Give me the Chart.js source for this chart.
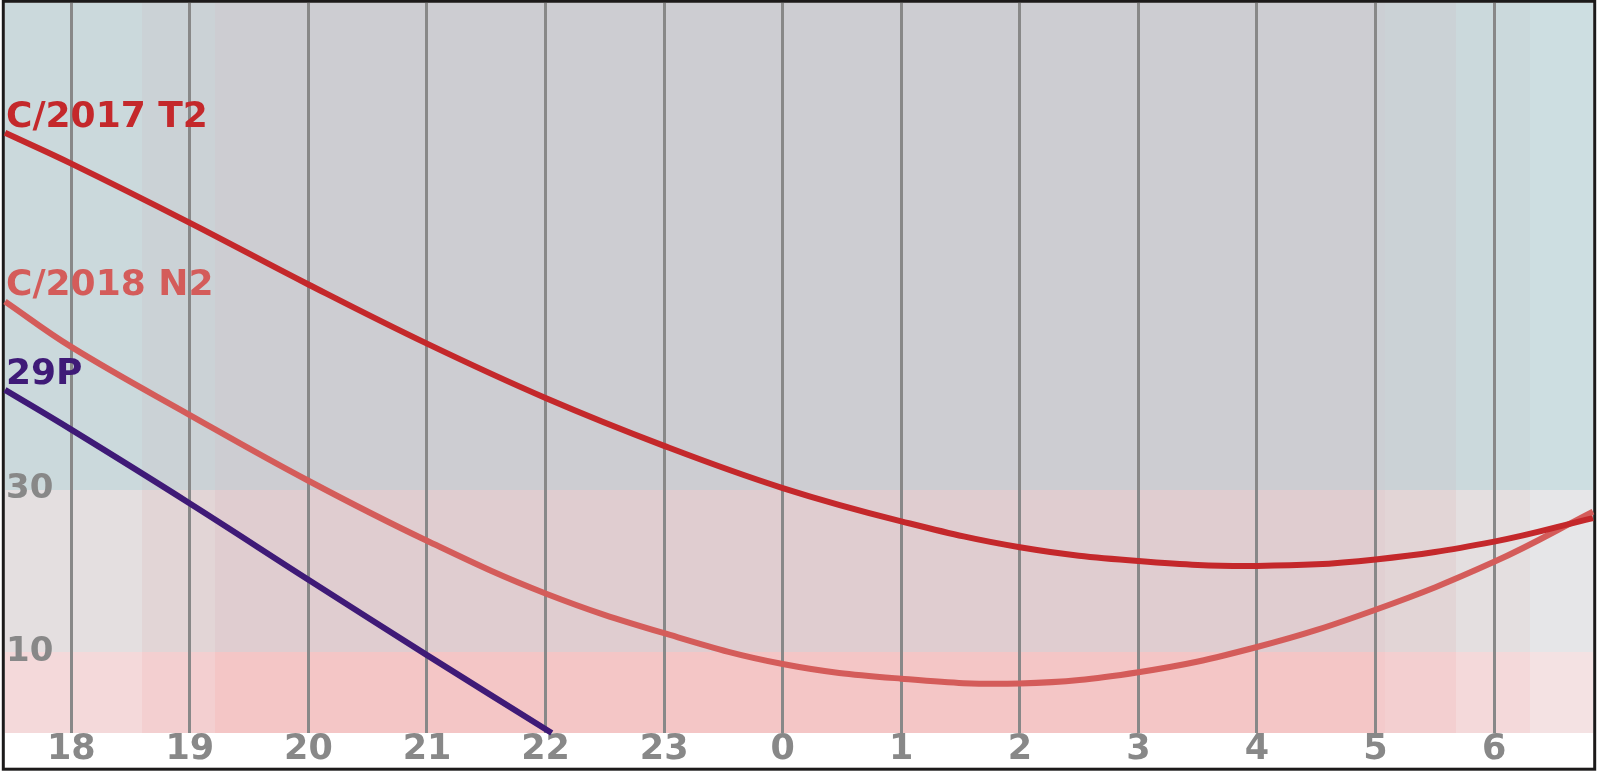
<!DOCTYPE html>
<html>
<head>
<meta charset="utf-8">
<script src="https://cdn.jsdelivr.net/npm/chart.js@4/dist/chart.umd.min.js"></script>
<style>
  html, body { margin: 0; padding: 0; background: #fff; }
  canvas { display: block; }
</style>
</head>
<body>
<canvas id="chart" width="1600" height="771"></canvas>
<script>
// hours after 18:00 local time; first/last sample = plot edges
const hourLabels = ["18", "19", "20", "21", "22", "23", "0", "1", "2", "3", "4", "5", "6"];
const sampleHours = [-0.559, 0, 1, 2, 3, 4, 5, 6, 7, 8, 9, 10, 11, 12, 12.834];

// altitude in degrees
const t2Alt = [74.0, 70.2, 62.9, 55.3, 48.0, 41.3, 35.4, 30.2, 26.1, 22.9, 21.2, 20.6, 21.4, 23.6, 26.5];
const n2Alt = [53.2, 47.6, 39.2, 31.1, 23.7, 17.2, 12.3, 8.5, 6.7, 6.1, 7.5, 10.6, 15.2, 21.1, 27.3];
const p29Hours = [-0.559, 0, 1, 2, 3, 4.052];
const p29Alt = [42.3, 37.4, 28.3, 18.9, 9.6, 0];

const yTickValues = [10, 30];

// altitude zones and twilight bands
const zoneBounds = [0, 10, 30, 90];
const bandEdges = [-0.559, 0.594, 1.212, 11.009, 11.080, 11.678, 12.302, 12.834];
const bandLevels = [3, 2, 0, 1, 2, 3, 4];
const zoneColors = [
    ["#f4c6c6", "#f3cacb", "#f3cfd0", "#f4d9da", "#f4e2e3"],   // below 10
    ["#e0cdd0", "#e1d0d2", "#e2d5d6", "#e4dfe0", "#e6e6e8"],   // 10 - 30
    ["#cdcdd2", "#cccfd4", "#cbd2d6", "#cbd9dc", "#cddee1"]    // above 30
];

function toPoints(xs, ys) {
    return xs.map((x, i) => ({ x: x, y: ys[i] }));
}

const FONT = "'DejaVu Sans', sans-serif";

// -------------------------
// BACKGROUND + FRAME
// -------------------------
const backdrop = {
    id: "backdrop",
    beforeDraw(chart) {
        const ctx = chart.ctx;
        const xs = chart.scales.x, ys = chart.scales.y;
        ctx.save();
        ctx.fillStyle = "#ffffff";
        ctx.fillRect(0, 0, chart.width, chart.height);
        for (let i = 0; i < bandLevels.length; i++) {
            const x1 = Math.round(xs.getPixelForValue(bandEdges[i]));
            const x2 = Math.round(xs.getPixelForValue(bandEdges[i + 1]));
            for (let j = 0; j < zoneColors.length; j++) {
                const y1 = Math.round(ys.getPixelForValue(zoneBounds[j + 1]));
                const y2 = Math.round(ys.getPixelForValue(zoneBounds[j]));
                ctx.fillStyle = zoneColors[j][bandLevels[i]];
                ctx.fillRect(x1, y1, x2 - x1, y2 - y1);
            }
        }
        ctx.strokeStyle = "#1c1a1a";
        ctx.lineWidth = 3;
        ctx.strokeRect(3.3, 1.3, 1591.4, 767.9);
        ctx.restore();
    }
};

// -------------------------
// COMET NAMES
// -------------------------
const names = {
    id: "names",
    afterDatasetsDraw(chart) {
        const ctx = chart.ctx;
        ctx.save();
        ctx.font = "bold 36px " + FONT;
        ctx.textAlign = "left";
        ctx.textBaseline = "alphabetic";
        chart.data.datasets.forEach((ds, i) => {
            const pt = chart.getDatasetMeta(i).data[0];
            ctx.fillStyle = ds.borderColor;
            ctx.fillText(ds.label, chart.chartArea.left + 1, pt.y - 6);
        });
        ctx.restore();
    }
};

const lineStyle = {
    borderWidth: 6,
    pointRadius: 0,
    tension: 0.4,
    clip: false,
    fill: false
};

new Chart(document.getElementById("chart"), {
    type: "line",
    data: {
        datasets: [
            Object.assign({ label: "C/2017 T2", data: toPoints(sampleHours, t2Alt), borderColor: "#c4282b" }, lineStyle),
            Object.assign({ label: "C/2018 N2", data: toPoints(sampleHours, n2Alt), borderColor: "#d45c5a" }, lineStyle),
            Object.assign({ label: "29P", data: toPoints(p29Hours, p29Alt), borderColor: "#3f1a77" }, lineStyle)
        ]
    },
    options: {
        responsive: false,
        animation: false,
        devicePixelRatio: 1,
        layout: { padding: { left: 5, right: 7, top: 3, bottom: 0 } },
        plugins: {
            legend: { display: false },
            tooltip: { enabled: false }
        },
        scales: {
            x: {
                type: "linear",
                min: bandEdges[0],
                max: bandEdges[bandEdges.length - 1],
                afterBuildTicks: s => { s.ticks = hourLabels.map((_, i) => ({ value: i })); },
                afterFit: s => { s.height = 38; s.paddingLeft = 0; s.paddingRight = 0; },
                grid: { color: "#888888", lineWidth: 3, drawTicks: false },
                border: { display: false },
                ticks: {
                    color: "#888888",
                    font: { family: FONT, size: 35, weight: "bold" },
                    padding: -4,
                    maxRotation: 0,
                    autoSkip: false,
                    callback: v => hourLabels[v]
                }
            },
            y: {
                min: 0,
                max: 90,
                afterBuildTicks: s => { s.ticks = yTickValues.map(v => ({ value: v })); },
                afterFit: s => { s.width = 0; s.paddingTop = 0; s.paddingBottom = 0; },
                grid: { display: false, drawTicks: false },
                border: { display: false },
                ticks: {
                    mirror: true,
                    color: "#888888",
                    font: { family: FONT, size: 34, weight: "bold" },
                    padding: 1
                }
            }
        }
    },
    plugins: [backdrop, names]
});
</script>
</body>
</html>
